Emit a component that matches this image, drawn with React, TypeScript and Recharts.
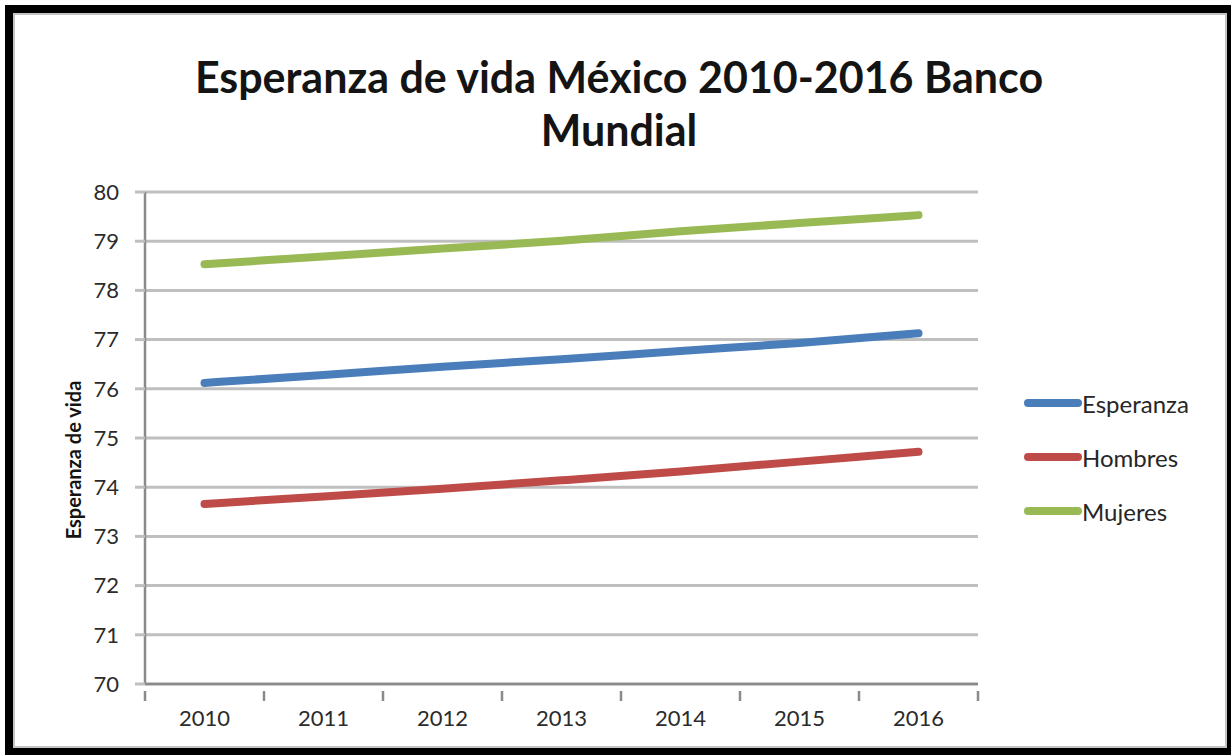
import React from 'react';
import { LineChart, Line, XAxis, YAxis, CartesianGrid } from 'recharts';

const years = [2010, 2011, 2012, 2013, 2014, 2015, 2016];
const esperanza = [76.12, 76.28, 76.45, 76.6, 76.77, 76.93, 77.13];
const hombres = [73.66, 73.81, 73.97, 74.14, 74.32, 74.52, 74.72];
const mujeres = [78.53, 78.69, 78.85, 79.01, 79.2, 79.37, 79.53];
const yTicks = [70, 71, 72, 73, 74, 75, 76, 77, 78, 79, 80];

const SERIES = [
  { key: 'esperanza', name: 'Esperanza', color: '#4a7ebb' },
  { key: 'hombres', name: 'Hombres', color: '#be4b48' },
  { key: 'mujeres', name: 'Mujeres', color: '#98b954' },
];

const FONT = 'Lato, "Open Sans", sans-serif';

// x ticks: year labels at category centres, tick marks on the boundaries (Excel style)
const xTicks: number[] = [];
years.forEach(y => { xTicks.push(y - 0.5); xTicks.push(y); });
xTicks.push(years[years.length - 1] + 0.5);

const XTick = ({ x, y, payload }: any) => {
  const v = payload.value;
  if (Number.isInteger(v)) {
    return (
      <text x={x} y={y + 34} textAnchor="middle" fontSize={22} fill="#2b2b2b" fontFamily={FONT}>
        {v}
      </text>
    );
  }
  return <line x1={x} x2={x} y1={y - 1} y2={y + 9} stroke="#8a8a8a" strokeWidth={2.5} />;
};

const YLabel = () => (
  <text
    x={73}
    y={460}
    transform="rotate(-90 73 460)"
    textAnchor="middle"
    dominantBaseline="central"
    fontSize={20}
    fontWeight={700}
    fill="#141414"
    fontFamily={FONT}
  >
    Esperanza de vida
  </text>
);

export default function App() {
  const data = years.map((year, i) => ({
    year,
    esperanza: esperanza[i],
    hombres: hombres[i],
    mujeres: mujeres[i],
  }));

  return (
    <div style={{ position: 'absolute', left: 0, top: 0, width: 1231, height: 755, background: '#fff', fontFamily: FONT }}>
      {/* frame */}
      <div
        style={{
          position: 'absolute', left: 5, top: 5, width: 1226, height: 750, boxSizing: 'border-box',
          borderTop: '8px solid #000', borderLeft: '8px solid #000', borderRight: '4px solid #000', borderBottom: '7px solid #000',
        }}
      >
        <div style={{ position: 'absolute', inset: 0, border: '2px solid #c4c4c4' }} />
      </div>

      {/* title */}
      <div
        style={{
          position: 'absolute', left: 0, top: 50, width: 1238, textAlign: 'center',
          fontSize: 43, fontWeight: 700, color: '#141414', lineHeight: '53px',
        }}
      >
        <div>Esperanza de vida México 2010-2016 Banco</div>
        <div>Mundial</div>
      </div>

      <div style={{ position: 'absolute', left: 0, top: 0 }}>
        <LineChart width={1231} height={755} data={data} margin={{ top: 192, right: 253, bottom: 0, left: 0 }}>
          <CartesianGrid horizontal vertical={false} stroke="#bfbfbf" strokeWidth={3} />
          <XAxis
            dataKey="year"
            type="number"
            domain={[2009.5, 2016.5]}
            ticks={xTicks}
            interval={0}
            height={71}
            axisLine={{ stroke: '#8a8a8a', strokeWidth: 2.5 }}
            tickLine={false}
            tick={<XTick />}
          />
          <YAxis
            domain={[70, 80]}
            ticks={yTicks}
            interval={0}
            width={145}
            axisLine={{ stroke: '#8a8a8a', strokeWidth: 2.5 }}
            tickLine={{ stroke: '#bfbfbf', strokeWidth: 3 }}
            tickSize={10}
            tick={{ fontSize: 22, fill: '#2b2b2b', fontFamily: FONT }}
            tickMargin={16}
            label={<YLabel />}
          />
          {SERIES.map(s => (
            <Line
              key={s.key}
              dataKey={s.key}
              name={s.name}
              type="monotone"
              stroke={s.color}
              strokeWidth={8}
              strokeLinecap="round"
              dot={false}
              activeDot={false}
              isAnimationActive={false}
            />
          ))}
        </LineChart>
      </div>

      {/* legend */}
      {SERIES.map((s, i) => (
        <div key={s.key} style={{ position: 'absolute', left: 1024, top: 388 + i * 54, height: 30, display: 'flex', alignItems: 'center' }}>
          <div style={{ width: 58, height: 8, borderRadius: 4, background: s.color }} />
          <span style={{ fontSize: 24, color: '#262626' }}>{s.name}</span>
        </div>
      ))}
    </div>
  );
}
